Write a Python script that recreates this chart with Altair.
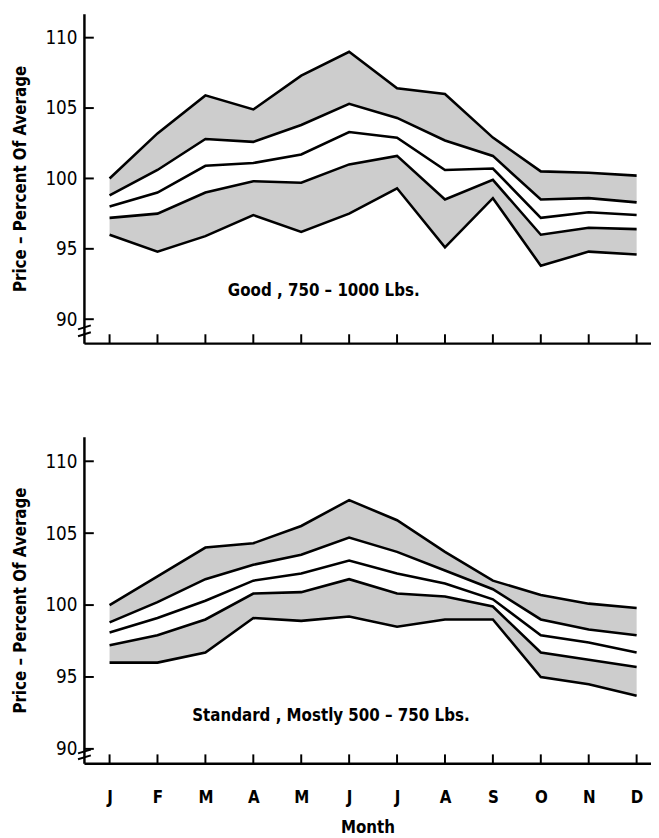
import altair as alt
import pandas as pd

months = ["J", "F", "M", "A", "M", "J", "J", "A", "S", "O", "N", "D"]

# Top panel: Good, 750-1000 Lbs.
good_1 = [100.0, 103.2, 105.9, 104.9, 107.3, 109.0, 106.4, 106.0, 102.9, 100.5, 100.4, 100.2]
good_2 = [98.8, 100.6, 102.8, 102.6, 103.8, 105.3, 104.3, 102.7, 101.6, 98.5, 98.6, 98.3]
good_3 = [98.0, 99.0, 100.9, 101.1, 101.7, 103.3, 102.9, 100.6, 100.7, 97.2, 97.6, 97.4]
good_4 = [97.2, 97.5, 99.0, 99.8, 99.7, 101.0, 101.6, 98.5, 99.9, 96.0, 96.5, 96.4]
good_5 = [96.0, 94.8, 95.9, 97.4, 96.2, 97.5, 99.3, 95.1, 98.6, 93.8, 94.8, 94.6]

# Bottom panel: Standard, Mostly 500-750 Lbs.
std_1 = [100.0, 102.0, 104.0, 104.3, 105.5, 107.3, 105.9, 103.7, 101.7, 100.7, 100.1, 99.8]
std_2 = [98.8, 100.2, 101.8, 102.8, 103.5, 104.7, 103.7, 102.4, 101.1, 99.0, 98.3, 97.9]
std_3 = [98.1, 99.1, 100.3, 101.7, 102.2, 103.1, 102.2, 101.5, 100.4, 97.9, 97.4, 96.7]
std_4 = [97.2, 97.9, 99.0, 100.8, 100.9, 101.8, 100.8, 100.6, 99.9, 96.7, 96.2, 95.7]
std_5 = [96.0, 96.0, 96.7, 99.1, 98.9, 99.2, 98.5, 99.0, 99.0, 95.0, 94.5, 93.7]

y_ticks = [90, 95, 100, 105, 110]

FONT = "DejaVu Sans Condensed, DejaVu Sans, sans-serif"
W = 575
SHADE = "#cdcdcd"


def panel(series, label, label_x, label_y, ydom, h, bottom, brk):
    idx = list(range(12))
    wide = pd.DataFrame({"m": idx, "mon": months,
                         "s1": series[0], "s2": series[1], "s3": series[2],
                         "s4": series[3], "s5": series[4]})
    long = pd.concat([
        pd.DataFrame({"m": idx, "v": s, "series": f"s{i + 1}"})
        for i, s in enumerate(series)
    ])

    xscale = alt.Scale(domain=[-0.535, 11.3], nice=False, zero=False)
    yscale = alt.Scale(domain=ydom, nice=False, zero=False)

    if bottom:
        xaxis = alt.Axis(values=idx, ticks=False,
                         labelExpr="['J','F','M','A','M','J','J','A','S','O','N','D'][datum.value]",
                         labelPadding=27, labelFontSize=17, labelFont=FONT, labelFontWeight="bold",
                         labelColor="black", title="Month", titleFont=FONT, titleFontSize=17,
                         titleFontWeight="bold", titlePadding=14, titleColor="black", grid=False)
    else:
        xaxis = alt.Axis(values=idx, ticks=False, labels=False, title=None, grid=False)

    yaxis = alt.Axis(values=y_ticks, ticks=False, labelPadding=7, labelFontSize=19, labelFont=FONT,
                     labelFontWeight="normal", labelColor="black",
                     title="Price – Percent Of Average", titleFont=FONT, titleFontSize=17,
                     titleFontWeight="bold", titleColor="black", titlePadding=16, grid=False)

    base = alt.Chart(wide)
    x = alt.X("m:Q", scale=xscale, axis=xaxis)

    band_top = base.mark_area(color=SHADE, opacity=1).encode(
        x=x, y=alt.Y("s1:Q", scale=yscale, axis=yaxis), y2="s2:Q")
    band_bot = base.mark_area(color=SHADE, opacity=1).encode(
        x="m:Q", y=alt.Y("s4:Q", scale=yscale), y2="s5:Q")

    lines = alt.Chart(long).mark_line(color="black", strokeWidth=2.6, strokeJoin="miter").encode(
        x="m:Q", y=alt.Y("v:Q", scale=yscale), detail="series:N")

    xt = alt.Chart(pd.DataFrame({"m": idx})).mark_rule(color="black", strokeWidth=2).encode(
        x="m:Q", y=alt.value(h), y2=alt.value(h - 9))
    yt = alt.Chart(pd.DataFrame({"v": y_ticks})).mark_rule(color="black", strokeWidth=2).encode(
        y=alt.Y("v:Q", scale=yscale), x=alt.value(0), x2=alt.value(10))

    # axis-break strokes across the y axis
    b1 = alt.Chart(pd.DataFrame({"k": [0]})).mark_rule(color="black", strokeWidth=2).encode(
        x=alt.value(-6), x2=alt.value(7), y=alt.value(h - brk[0]), y2=alt.value(h - brk[0] - 4))
    b2 = alt.Chart(pd.DataFrame({"k": [0]})).mark_rule(color="black", strokeWidth=2).encode(
        x=alt.value(-6), x2=alt.value(7), y=alt.value(h - brk[1]), y2=alt.value(h - brk[1] - 4))

    txt = alt.Chart(pd.DataFrame({"x": [label_x], "y": [label_y], "t": [label]})).mark_text(
        font=FONT, fontSize=17, fontWeight="bold", color="black", align="center", baseline="middle"
    ).encode(x="x:Q", y=alt.Y("y:Q", scale=yscale), text="t:N")

    return alt.layer(band_top, band_bot, lines, xt, yt, b1, b2, txt).properties(width=W, height=h)


top = panel([good_1, good_2, good_3, good_4, good_5], "Good , 750 – 1000  Lbs.", 4.47, 92.0,
            [88.3, 111.7], 334, False, (14, 7))
bot = panel([std_1, std_2, std_3, std_4, std_5], "Standard , Mostly 500 – 750  Lbs.", 4.62, 92.3,
            [89.0, 111.7], 331, True, (10, 4))

chart = alt.vconcat(top, bot, spacing=94).properties(
    padding={"left": 3, "top": 0, "right": 0, "bottom": 0}
).configure_view(stroke=None).configure_axis(domainColor="black", domainWidth=2.5)

chart.save("out.html", embed_options={"renderer": "svg", "actions": False})
